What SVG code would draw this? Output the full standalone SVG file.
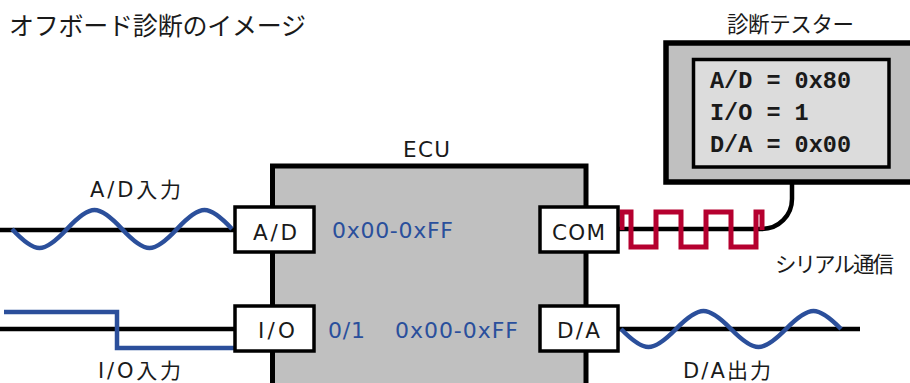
<svg xmlns="http://www.w3.org/2000/svg" width="910" height="383" viewBox="0 0 910 383">
<style>
.t{font-family:"DejaVu Sans","Noto Sans CJK JP",sans-serif;font-size:21.5px;fill:#1a1a1a}
.j{font-family:"DejaVu Sans","Noto Sans CJK JP",sans-serif;font-size:21px;fill:#1a1a1a}
.b{font-family:"DejaVu Sans",sans-serif;font-size:22px;fill:#2a4f9c}
.m{font-family:"Liberation Mono",monospace;font-size:23.5px;font-weight:bold;fill:#1a1a1a}
.port{fill:#ffffff;stroke:#000;stroke-width:3.5}
.wire{fill:none;stroke:#000;stroke-width:4.5}
.wave{fill:none;stroke:#2b4f9b;stroke-width:4.5;stroke-linejoin:miter}
.sq{fill:none;stroke:#b5002f;stroke-width:5}
</style>
<rect width="910" height="383" fill="#ffffff"/>
<g id="title">
<text class="t" x="9" y="35" style="font-size:25px" textLength="297" lengthAdjust="spacing">オフボード診断のイメージ</text>
</g>
<g id="ecu">
<rect x="272.5" y="166" width="313.5" height="240" fill="#c0c0c0" stroke="#000" stroke-width="5"/>
<text class="t" x="403" y="157" textLength="47" lengthAdjust="spacing">ECU</text>
<text class="b" x="332" y="238" textLength="121" lengthAdjust="spacing">0x00-0xFF</text>
<text class="b" x="328" y="338" textLength="37" lengthAdjust="spacing">0/1</text>
<text class="b" x="395" y="338" textLength="123" lengthAdjust="spacing">0x00-0xFF</text>
</g>
<g id="tester">
<rect x="666" y="43" width="260" height="139" fill="#c0c0c0" stroke="#000" stroke-width="5.5"/>
<rect x="693.5" y="59.5" width="195.5" height="107.5" fill="#dcdcdc" stroke="#000" stroke-width="3.5"/>
<text class="t" x="727" y="32" textLength="127" lengthAdjust="spacing">診断テスター</text>
<text class="m" x="710" y="88">A/D = 0x80</text>
<text class="m" x="710" y="120">I/O = 1</text>
<text class="m" x="710" y="152">D/A = 0x00</text>
</g>
<g id="connectors">
<line class="wire" x1="0" y1="230" x2="236" y2="230"/>
<line class="wire" x1="0" y1="329" x2="236" y2="329"/>
<line class="wire" x1="617" y1="329" x2="860" y2="329"/>
<path class="wire" d="M617,229 H762 A30,30 0 0 0 792,199 V182"/>
<path class="wave" d="M12,229 c8.96,9.7 18.75,19 27.5,19 s18.54,-9.3 27.5,-19 s18.75,-19 27.5,-19 s18.54,9.3 27.5,19 s18.75,19 27.5,19 s18.54,-9.3 27.5,-19 s18.75,-19 27.5,-19 s18.54,9.3 27.5,19"/>
<path class="wave" d="M4,312 H117 V348 H236"/>
<path class="wave" d="M621,329 c8.96,9.2 18.75,18 27.5,18 s18.54,-8.8 27.5,-18 s18.75,-18 27.5,-18 s18.54,8.8 27.5,18 s18.75,18 27.5,18 s18.54,-8.8 27.5,-18 s18.75,-18 27.5,-18 s18.54,8.8 27.5,18"/>
<path class="sq" d="M622,230 V212 H631 V247 H656 V212 H681 V247 H706 V212 H731 V247 H756 V212 H762 V230"/>
<text class="j" x="90" y="197" textLength="91" lengthAdjust="spacing">A/D入力</text>
<text class="j" x="98" y="378" textLength="83" lengthAdjust="spacing">I/O入力</text>
<text class="j" x="683" y="378" textLength="88" lengthAdjust="spacing">D/A出力</text>
<text class="t" x="775" y="272" textLength="119" lengthAdjust="spacing">シリアル通信</text>
</g>
<g id="port-ad">
<rect class="port" x="235" y="207" width="79" height="45"/>
<text class="t" x="253" y="240" textLength="44" lengthAdjust="spacing">A/D</text>
</g>
<g id="port-com">
<rect class="port" x="540" y="207" width="78" height="45"/>
<text class="t" x="552" y="240" textLength="53" lengthAdjust="spacing">COM</text>
</g>
<g id="port-io">
<rect class="port" x="235" y="306" width="79" height="45"/>
<text class="t" x="258" y="338" textLength="37" lengthAdjust="spacing">I/O</text>
</g>
<g id="port-da">
<rect class="port" x="540" y="306" width="78" height="45"/>
<text class="t" x="557" y="338" textLength="43" lengthAdjust="spacing">D/A</text>
</g>
</svg>
